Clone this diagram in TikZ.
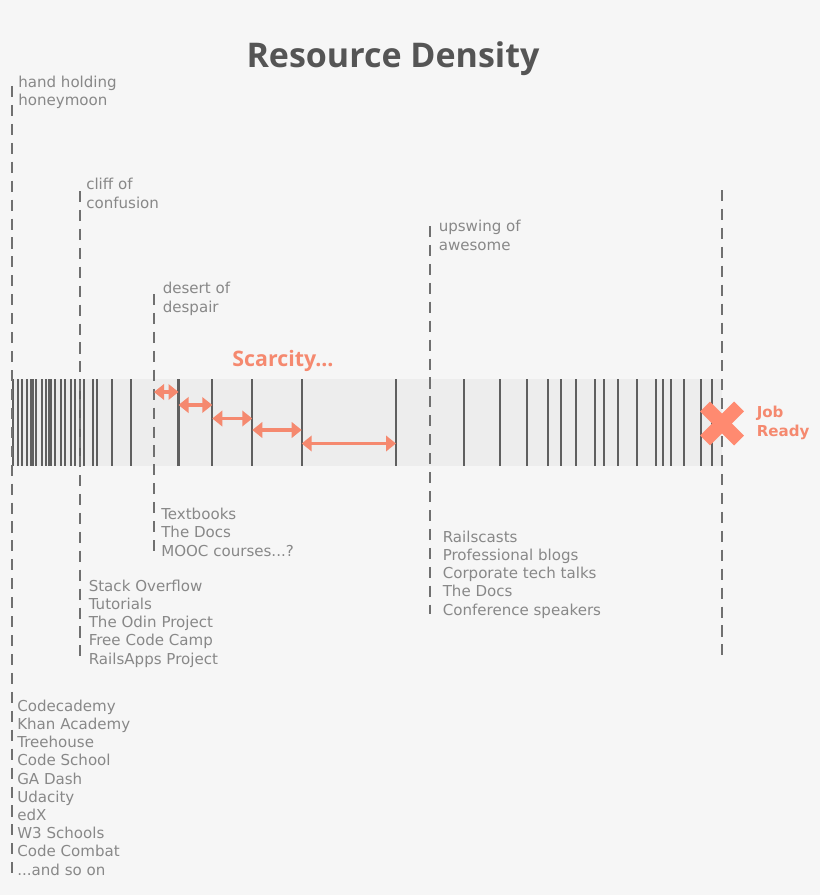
\documentclass[tikz,border=0pt]{standalone}
\usepackage{fontspec}
\setmainfont{DejaVu Sans}
\newfontfamily\titlefont{Open Sans}
\usetikzlibrary{arrows.meta}
\definecolor{bgc}{HTML}{F6F6F6}
\definecolor{bandc}{HTML}{EDEDED}
\definecolor{barc}{HTML}{5F5F5F}
\definecolor{dashc}{HTML}{707070}
\definecolor{txtc}{HTML}{888888}
\definecolor{titlec}{HTML}{555555}
\definecolor{salmon}{HTML}{F5896F}
\definecolor{crossc}{HTML}{FF8A70}
\tikzset{
  x=0.75pt,y=-0.75pt,
  barline/.style={draw=barc,line width=1.7pt},
  guide/.style={draw=dashc,line width=1.5pt,dash pattern=on 8.3pt off 5.9pt},
  gap/.style={draw=salmon,line width=2.6pt,{Triangle[length=7.5pt,width=11.5pt]}-{Triangle[length=7.5pt,width=11.5pt]},shorten <=0pt,shorten >=0pt},
  lbl/.style={anchor=base west,inner sep=0pt,align=left,text=txtc,font=\fontsize{11.3pt}{13.65pt}\selectfont},
}
\begin{document}
\begin{tikzpicture}
\useasboundingbox (0,0) rectangle (820,895);
\fill[bgc] (0,0) rectangle (820,895);
\fill[bandc] (12,379) rectangle (721.5,466);
% bars
\foreach \bx/\bw in {13.3/1.7,17.7/1.7,22.3/1.7,26.7/1.7,31.7/3,36/1.7,42.3/1.7,45.7/1.7,50/3,55/1.7,61/1.7,65/1.7,70.7/1.7,74.7/1.7,80/1.7,83.7/1.7,93.3/1.7,97/1.7,112/1.7,131/1.7,500/1.7,526.7/1.7,547.7/1.7,560.7/1.7,576/1.7,595/1.7,604.3/1.7,617.7/1.7,636.7/1.7,655.7/1.7,663/1.7,670.7/1.7,684/1.7,700.7/1.7,712.3/1.7,464.3/1.7}
  \draw[barc,line width=\bw pt] (\bx,379) -- (\bx,466);
% bars bounding the gaps
\foreach \nm/\bx in {ba/178.5,bb/212.3,bc/252.3,bd/301.7,be/396}{
  \coordinate (\nm t) at (\bx,379);
  \coordinate (\nm b) at (\bx,466);
  \draw[barline] (\nm t) -- (\nm b);
}
% dashed guides
\coordinate (g1t) at (12,86);   \coordinate (g1b) at (12,876);
\coordinate (g2t) at (80,191);  \coordinate (g2b) at (80,658);
\coordinate (g3t) at (154,294); \coordinate (g3b) at (154,552);
\coordinate (g4t) at (430,226); \coordinate (g4b) at (430,614);
\coordinate (g5t) at (722,190); \coordinate (g5b) at (722,658);
\foreach \g in {g1,g2,g3,g4,g5} \draw[guide] (\g t) -- (\g b);
% gap arrows
\coordinate (a0l) at (154,392); \coordinate (a0r) at (178.5,392);
\coordinate (a1l) at (178.5,405); \coordinate (a1r) at (212.3,405);
\coordinate (a2l) at (212.3,418.5); \coordinate (a2r) at (252.3,418.5);
\coordinate (a3l) at (252.3,430); \coordinate (a3r) at (301.7,430);
\coordinate (a4l) at (301.7,443.5); \coordinate (a4r) at (396,443.5);
\foreach \a in {a0,a1,a2,a3,a4} \draw[gap] (\a l) -- (\a r);
% cross
\coordinate (c1) at (705,406.5); \coordinate (c2) at (739,440.5);
\coordinate (c3) at (739,406.5); \coordinate (c4) at (705,440.5);
\draw[crossc,line width=10.5pt] (c1) -- (c2);
\draw[crossc,line width=10.5pt] (c3) -- (c4);
% texts
\node[anchor=base,inner sep=0pt,text=titlec,font=\titlefont\bfseries\fontsize{25.5pt}{30pt}\selectfont] (title) at (393,68) {Resource Density};
\node[anchor=base,inner sep=0pt,text=salmon,font=\titlefont\bfseries\fontsize{16pt}{18pt}\selectfont] (scarcity) at (283,366) {Scarcity...};
\node[anchor=base west,inner sep=0pt,align=left,text=salmon,font=\bfseries\fontsize{11.3pt}{13.65pt}\selectfont] (job) at (756.5,436) {Job\\Ready};
\node[lbl] (n1) at (18,106) {hand holding\\honeymoon};
\node[lbl] (n2) at (86,208) {cliff of\\confusion};
\node[lbl] (n3) at (162.5,312) {desert of\\despair};
\node[lbl] (n4) at (438.5,250) {upswing of\\awesome};
\node[lbl] (l3) at (161,556) {Textbooks\\The Docs\\MOOC courses...?};
\node[lbl] (l4) at (442.5,615) {Railscasts\\Professional blogs\\Corporate tech talks\\The Docs\\Conference speakers};
\node[lbl] (l2) at (88.5,664) {Stack Overflow\\Tutorials\\The Odin Project\\Free Code Camp\\RailsApps Project};
\node[lbl] (l1) at (17,875) {Codecademy\\Khan Academy\\Treehouse\\Code School\\GA Dash\\Udacity\\edX\\W3 Schools\\Code Combat\\...and so on};
\end{tikzpicture}
\end{document}
